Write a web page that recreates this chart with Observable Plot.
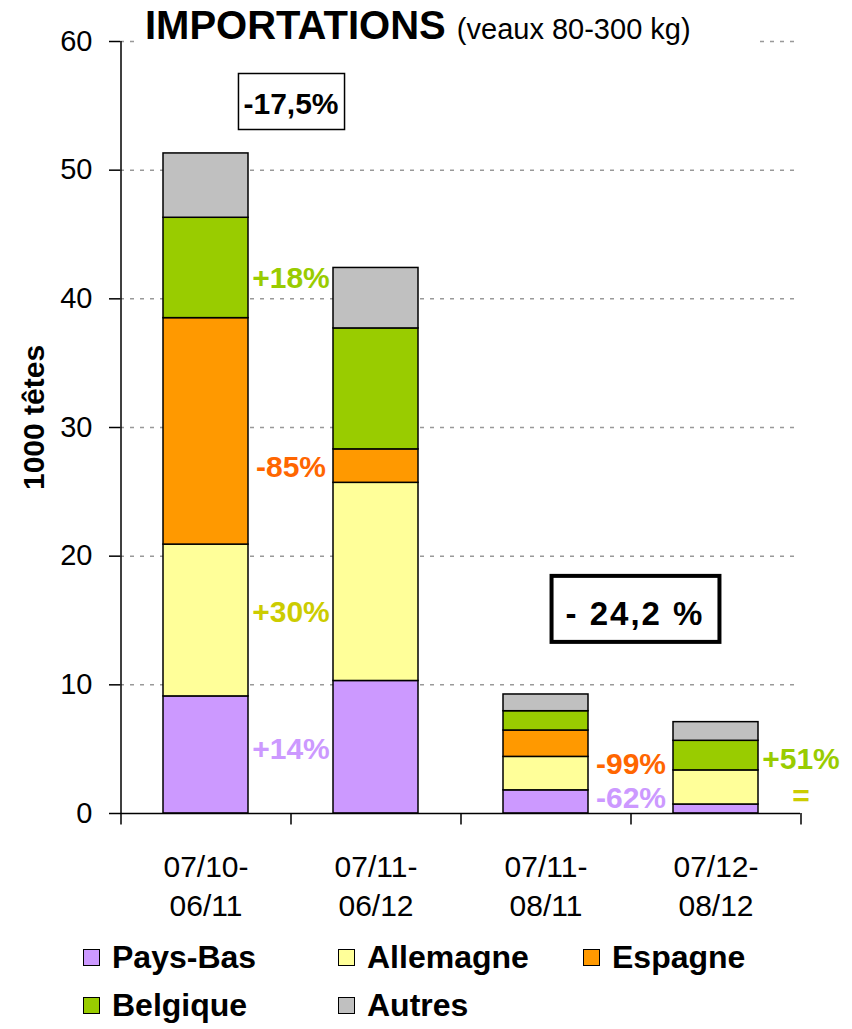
<!DOCTYPE html>
<html>
<head>
<meta charset="utf-8">
<script src="https://cdn.jsdelivr.net/npm/d3@7"></script>
<script src="https://cdn.jsdelivr.net/npm/@observablehq/plot@0.6"></script>
<style>
  body { margin: 0; background: #fff; font-family: "Liberation Sans", Arial, sans-serif; }
  #wrap { position: relative; width: 852px; height: 1029px; overflow: hidden; }
  #chart svg { display: block; }
  #title { position: absolute; left: 137px; top: 6px; width: 609px; padding-left: 8px; height: 39px;
           line-height: 39px; font-size: 40px; background: #fff; white-space: nowrap; color: #000; }
  #title .main { font-weight: bold; }
  #title .sub { font-size: 29px; font-weight: normal; }
  #legend { position: absolute; top: 933px; left: 83px; display: grid;
            grid-template-columns: 255px 245px 220px; grid-auto-rows: 48px; }
  #legend .item { display: flex; align-items: center; font-weight: bold; font-size: 32px; line-height: 48px; color: #000; }
  #legend .sw { width: 17px; height: 17px; box-sizing: border-box; border: 1.5px solid #000; margin-right: 12px; flex: none; }
</style>
</head>
<body>
<div id="wrap">
  <div id="chart"></div>
  <div id="title"></div>
  <div id="legend"></div>
</div>
<script>
// ---- data ----
const periods = ["07/10-06/11", "07/11-06/12", "07/11-08/11", "07/12-08/12"];
const countries = ["Pays-Bas", "Allemagne", "Espagne", "Belgique", "Autres"];
const countryColors = ["#CC99FF", "#FFFF99", "#FF9900", "#99CC00", "#C0C0C0"];
const paysBas   = [9.1, 10.3, 1.8, 0.7];
const allemagne = [11.8, 15.4, 2.6, 2.65];
const espagne   = [17.6, 2.6, 2.05, 0];
const belgique  = [7.8, 9.4, 1.5, 2.3];
const autres    = [5.0, 4.7, 1.3, 1.45];
const yTicks = [0, 10, 20, 30, 40, 50, 60];
const yLabel = "1000 têtes";
const titleMain = "IMPORTATIONS";
const titleSub = "(veaux 80-300 kg)";
// change annotations (placed at the right edge of the given period)
const changeText   = ["+18%", "-85%", "+30%", "+14%", "-99%", "-62%", "+51%", "="];
const changePeriod = [periods[0], periods[0], periods[0], periods[0], periods[2], periods[2], periods[3], periods[3]];
const changeY      = [41.6, 26.9, 15.6, 5.0, 3.8, 1.2, 4.2, 1.35];
const changeColor  = ["#99CC00", "#FF6600", "#CCCC00", "#CC99FF", "#FF6600", "#CC99FF", "#99CC00", "#CCCC00"];
const totalText   = ["-17,5%", "- 24,2 %"];
const totalPeriod = [periods[0], periods[2]];
const totalY      = [55.15, 15.48];

// ---- build ----
const series = [paysBas, allemagne, espagne, belgique, autres];
const rows = countries.flatMap((c, ci) => periods.map((p, pi) => ({period: p, country: c, value: series[ci][pi]})));

const W = 852, H = 925, mL = 120, mR = 52, mT = 41, mB = 112;
const half = (W - mL - mR) / periods.length / 2;
const font = "Liberation Sans, Arial, sans-serif";
const yMax = d3.max(yTicks);

const changeMarks = changeText.map((t, i) => Plot.text([i], {
  x: j => changePeriod[j], y: j => changeY[j], text: j => changeText[j],
  fill: changeColor[i], dx: half, fontSize: 30, fontWeight: "bold"
}));

const plot = Plot.plot({
  width: W, height: H,
  marginTop: mT, marginBottom: mB, marginLeft: mL, marginRight: mR,
  style: {fontFamily: font, background: "transparent", color: "#000", overflow: "visible"},
  x: {domain: periods, paddingInner: 0.5, paddingOuter: 0.25, label: null},
  y: {domain: [0, yMax], label: null},
  color: {domain: countries, range: countryColors},
  marks: [
    Plot.ruleY(yTicks.filter(d => d > 0), {stroke: "#999", strokeWidth: 1.5, strokeDasharray: "4,6"}),
    Plot.barY(rows, {x: "period", y: "value", fill: "country", stroke: "#000", strokeWidth: 1.5}),
    Plot.ruleY([0], {stroke: "#000", strokeWidth: 1.5}),
    Plot.ruleX([periods[0]], {dx: -half, y1: 0, y2: yMax, stroke: "#000", strokeWidth: 1.5}),
    Plot.ruleX(periods, {dx: -half, y1: 0, y2: -0.9, stroke: "#000", strokeWidth: 1.5}),
    Plot.ruleX([periods[periods.length - 1]], {dx: half, y1: 0, y2: -0.9, stroke: "#000", strokeWidth: 1.5}),
    Plot.axisY({ticks: yTicks, tickSize: 11, tickPadding: 17, fontSize: 29, strokeWidth: 1.5, label: null}),
    Plot.axisX({tickSize: 0, tickPadding: 36, fontSize: 30, lineHeight: 1.3, label: null,
                tickFormat: d => d.replace("-", "-\n")}),
    Plot.text([yLabel], {text: d => d, frameAnchor: "left", textAnchor: "middle", rotate: -90, dx: -86, dy: -10,
                         fontSize: 30, fontWeight: "bold"}),
    ...changeMarks,
    Plot.text([0], {x: j => totalPeriod[j], y: j => totalY[j], text: j => totalText[j],
                    dx: half, fontSize: 30, fontWeight: "bold", fill: "#000"}),
    Plot.text([1], {x: j => totalPeriod[j], y: j => totalY[j], text: j => totalText[j],
                    dx: half + 4, fontSize: 33, fontWeight: "bold", fill: "#000"})
  ]
});
document.getElementById("chart").append(plot);

// boxes around the total-change labels
const boxStyle = [
  {t: 13, r: 6, b: 10, l: 5, w: 1.5, ls: 0},
  {t: 19, r: 15, b: 10, l: 14, w: 4, ls: 2}
];
d3.select(plot).selectAll("text").each(function () {
  const i = totalText.indexOf(this.textContent);
  if (i < 0) return;
  const s = boxStyle[i];
  if (s.ls) this.style.letterSpacing = s.ls + "px";
  const bb = this.getBBox();
  const r = document.createElementNS("http://www.w3.org/2000/svg", "rect");
  r.setAttribute("x", bb.x - s.l);
  r.setAttribute("y", bb.y - s.t);
  r.setAttribute("width", bb.width + s.l + s.r);
  r.setAttribute("height", bb.height + s.t + s.b);
  r.setAttribute("fill", "#fff");
  r.setAttribute("stroke", "#000");
  r.setAttribute("stroke-width", s.w);
  const tr = this.getAttribute("transform");
  if (tr) r.setAttribute("transform", tr);
  this.parentNode.insertBefore(r, this);
});

// title
const title = document.getElementById("title");
title.innerHTML = `<span class="main"></span> <span class="sub"></span>`;
title.querySelector(".main").textContent = titleMain;
title.querySelector(".sub").textContent = titleSub;

// legend
const legend = document.getElementById("legend");
countries.forEach((c, i) => {
  const item = document.createElement("div");
  item.className = "item";
  const sw = document.createElement("span");
  sw.className = "sw";
  sw.style.background = countryColors[i];
  const lab = document.createElement("span");
  lab.textContent = c;
  item.append(sw, lab);
  legend.append(item);
});
</script>
</body>
</html>
